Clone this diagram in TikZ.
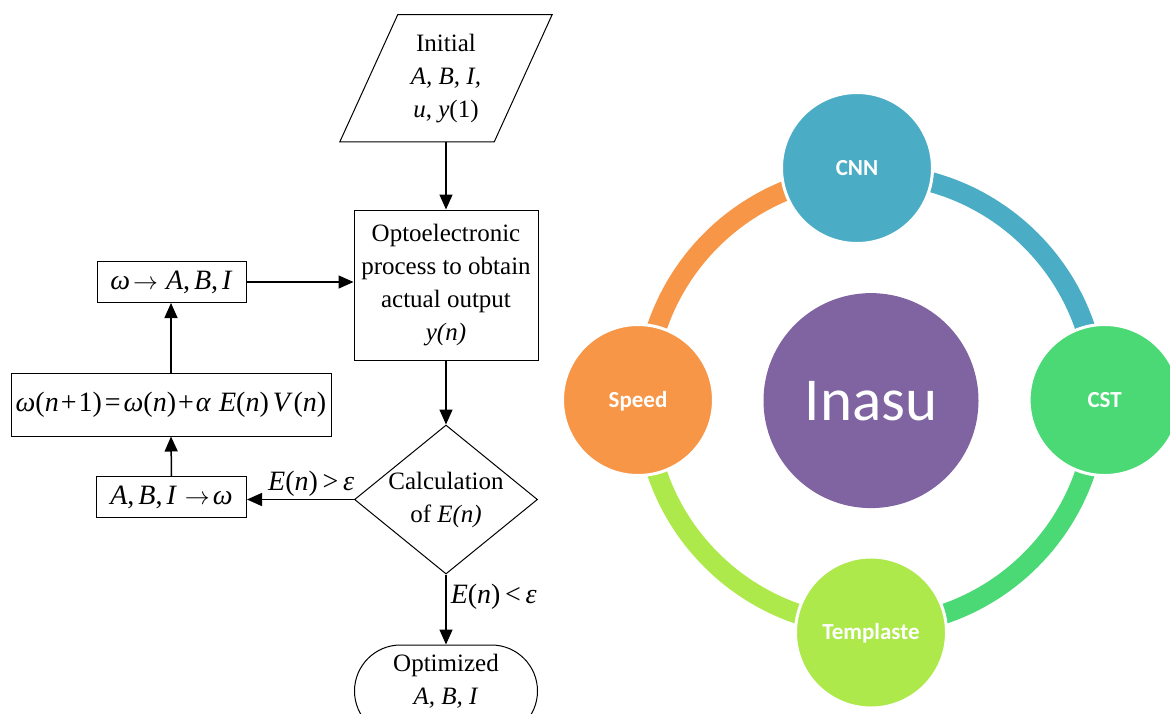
\documentclass[tikz,border=0pt]{standalone}
\usepackage{fontspec}
\setmainfont{Liberation Serif}
\newfontfamily\calfont{Carlito}
\usetikzlibrary{arrows.meta,shapes.geometric,shapes.misc}
\definecolor{cnnc}{HTML}{4BACC6}
\definecolor{cstc}{HTML}{4AD974}
\definecolor{tmpc}{HTML}{ADE94A}
\definecolor{spdc}{HTML}{F79646}
\definecolor{inac}{HTML}{8064A2}
\newcommand{\rar}{\ensuremath{\rightarrow}}
\begin{document}
\begin{tikzpicture}[x=1pt,y=-1pt,
  every node/.style={font=\fontsize{25}{33}\selectfont},
  mth/.style={font=\fontsize{28}{33}\selectfont},
  box/.style={draw, line width=1, inner sep=0, align=center},
  arr/.style={-{Triangle[length=15pt,width=13pt]}, line width=1.5},
  lbl/.style={inner sep=2, mth},
  ring/.style={line width=20},
  circ/.style={circle, draw=white, line width=3, inner sep=0, text=white,
    font=\calfont\bfseries\fontsize{23}{23}\selectfont, text height=14.8pt, text depth=0pt},
  hub/.style={circle, inner sep=0, text=white,
    font=\calfont\fontsize{61}{61}\selectfont, text height=39.3pt, text depth=0pt}]
\useasboundingbox (0,0) rectangle (1170,713);
\clip (0,0) rectangle (1170,713);

% ---- flowchart ----
\node[align=center, inner sep=0, minimum width=154, minimum height=127] (init) at (446,78.2)
  {Initial\\\textit{A, B, I,}\\\textit{u}, \textit{y}(1)};
\draw[line width=1] ([xshift=29]init.north west) -- ([xshift=29]init.north east)
  -- ([xshift=-29]init.south east) -- ([xshift=-29]init.south west) -- cycle;

\node[box, minimum width=184, minimum height=150] (opto) at (446,285)
  {Optoelectronic\\process to obtain\\actual output\\\textit{y(n)}};

\node[diamond, draw, line width=1, aspect=1.23, inner sep=-1.5pt,
  minimum width=183, minimum height=149, align=center] (dia) at (446,499.5)
  {Calculation\\of \textit{E(n)}};

\node[rounded rectangle, draw, line width=1, minimum width=183, minimum height=92,
  inner sep=0] (opt) at (446,691) {};
\node[align=center, inner sep=0] (optt) at (446,681) {Optimized\\\textit{A, B, I}};

\node[box, mth, minimum width=149, minimum height=41] (b1) at (171.5,282)
  {\textit{ω}\kern3pt\rar\kern8pt\textit{A},\kern4pt\textit{B},\kern4pt\textit{I}};
\node[box, mth, minimum width=320, minimum height=63] (b2) at (171,404.5)
  {\textit{ω}(\textit{n}\kern2pt+\kern2pt1)\kern3pt=\kern3pt\textit{ω}(\textit{n})\kern2pt+\kern2pt\textit{α}\kern8pt\textit{E}(\textit{n})\kern4pt\textit{V}\kern1pt(\textit{n})};
\node[box, mth, minimum width=150, minimum height=41] (b3) at (171.5,497)
  {\textit{A},\kern4pt\textit{B},\kern4pt\textit{I}\kern8pt\rar\kern3pt\textit{ω}};

\draw[arr] (init.south) -- (opto.north);
\draw[arr] (opto.south) -- (dia.north);
\draw[arr] (dia.south) -- (opt.north)
  node[lbl, pos=0.32, anchor=west, xshift=2] {\textit{E}(\textit{n})\,<\,\textit{ε}};
\draw[arr] (dia.west) -- (b3.east |- dia.west)
  node[lbl, pos=0.4, above] {\textit{E}(\textit{n})\,>\,\textit{ε}};
\draw[arr] (b3.north) -- (b2.south);
\draw[arr] (b2.north) -- (b2.north |- b1.south);
\draw[arr] (b1.east) -- (opto.west |- b1.east);

% ---- cycle diagram ----
\draw[ring, cnnc] (871,400) ++(-90:226) arc[start angle=-90, end angle=0, radius=226];
\draw[ring, cstc] (871,400) ++(0:226) arc[start angle=0, end angle=90, radius=226];
\draw[ring, tmpc] (871,400) ++(90:226) arc[start angle=90, end angle=180, radius=226];
\draw[ring, spdc] (871,400) ++(180:226) arc[start angle=180, end angle=270, radius=226];

\node[hub, fill=inac, minimum size=215] (ina) at (871,400.6) {Inasu};
\node[circ, fill=cnnc, minimum size=151] (cnn) at (857,168) {CNN};
\node[circ, fill=cstc, minimum size=151] (cst) at (1104.6,400) {CST};
\node[circ, fill=tmpc, minimum size=151] (tmp) at (871,632.5) {Templaste};
\node[circ, fill=spdc, minimum size=151] (spd) at (638,400) {Speed};
\end{tikzpicture}
\end{document}
